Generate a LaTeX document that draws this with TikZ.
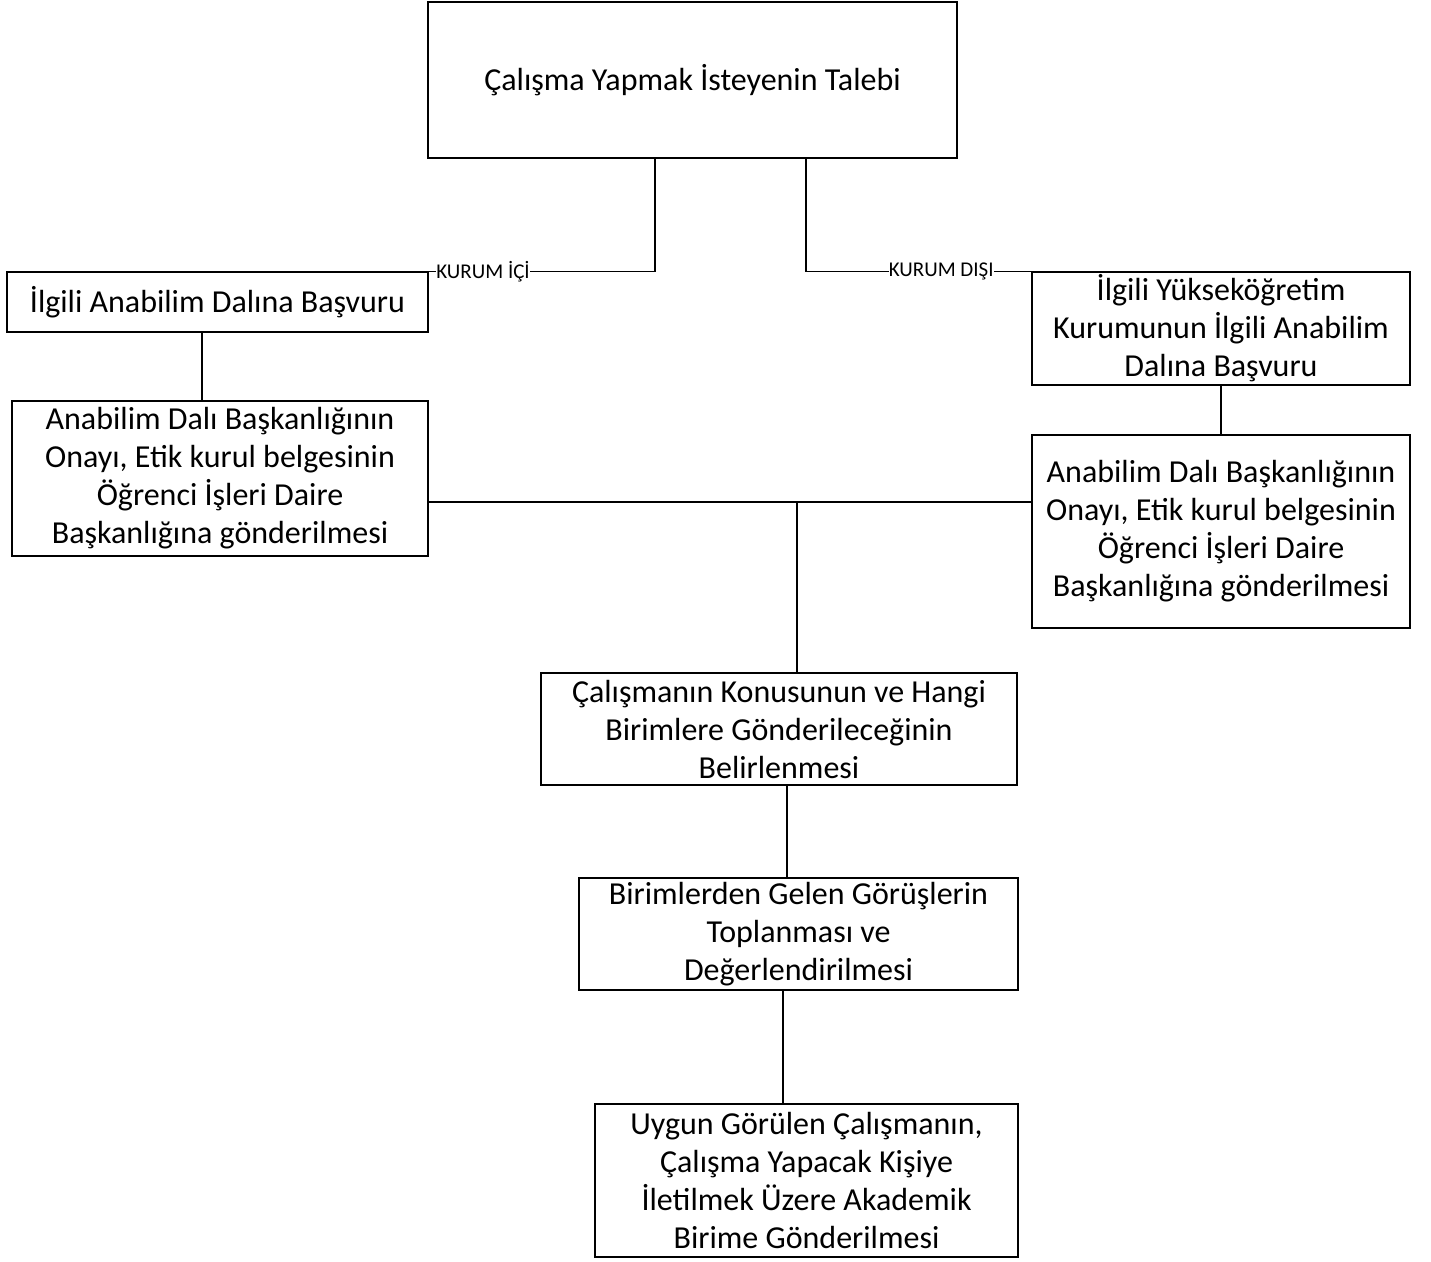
\documentclass[tikz,border=0pt]{standalone}
\usepackage{fontspec}
\setmainfont{Carlito}
\usetikzlibrary{calc}
\begin{document}
\begin{tikzpicture}[x=1pt,y=-1pt,
  box/.style={draw=black,line width=1.5pt,fill=white,align=center,inner sep=0pt,
    font=\fontsize{32}{38}\selectfont},
  conn/.style={draw=black,line width=1.5pt},
  lbl/.style={fill=white,inner xsep=0pt,inner ysep=1pt,font=\fontsize{21}{24}\selectfont}]
\useasboundingbox[fill=white] (0,0) rectangle (1431,1261);
% boxes
\node[box,minimum width=529pt,minimum height=156pt] (top) at (692.5,80) {Çalışma Yapmak İsteyenin Talebi};
\node[box,minimum width=421pt,minimum height=60pt] (lb1) at (217.5,302) {İlgili Anabilim Dalına Başvuru};
\node[box,minimum width=416pt,minimum height=155pt] (lb2) at (220,478.5) {Anabilim Dalı Başkanlığının\\Onayı, Etik kurul belgesinin\\Öğrenci İşleri Daire\\Başkanlığına gönderilmesi};
\node[box,minimum width=378pt,minimum height=113pt] (rb1) at (1221,328.5) {İlgili Yükseköğretim\\Kurumunun İlgili Anabilim\\Dalına Başvuru};
\node[box,minimum width=378pt,minimum height=193pt] (rb2) at (1221,531.5) {Anabilim Dalı Başkanlığının\\Onayı, Etik kurul belgesinin\\Öğrenci İşleri Daire\\Başkanlığına gönderilmesi};
\node[box,minimum width=476pt,minimum height=112pt] (c1) at (779,729) {Çalışmanın Konusunun ve Hangi\\Birimlere Gönderileceğinin\\Belirlenmesi};
\node[box,minimum width=439pt,minimum height=112pt] (c2) at (798.5,934) {Birimlerden Gelen Görüşlerin\\Toplanması ve\\Değerlendirilmesi};
\node[box,minimum width=423pt,minimum height=153pt] (c3) at (806.5,1180.5) {Uygun Görülen Çalışmanın,\\Çalışma Yapacak Kişiye\\İletilmek Üzere Akademik\\Birime Gönderilmesi};
% anchor coordinates
\coordinate (tL) at (655,158);
\coordinate (tR) at (806,158);
\coordinate (j) at (797,502);
\coordinate (k1) at (787,0);
\coordinate (k2) at (783,0);
% connectors
\draw[conn] (tL) |- (lb1.north east) node[lbl,pos=0.88] {KURUM İÇİ};
\draw[conn] (tR) |- (rb1.north west) node[lbl,pos=0.8] {KURUM DIŞI};
\draw[conn] (lb1.south -| 202,0) -- (lb2.north -| 202,0);
\draw[conn] (rb1.south) -- (rb2.north);
\draw[conn] (lb2.east |- j) -- (rb2.west |- j);
\draw[conn] (j) -- (j |- c1.north);
\draw[conn] (c1.south -| k1) -- (c2.north -| k1);
\draw[conn] (c2.south -| k2) -- (c3.north -| k2);
\end{tikzpicture}
\end{document}
